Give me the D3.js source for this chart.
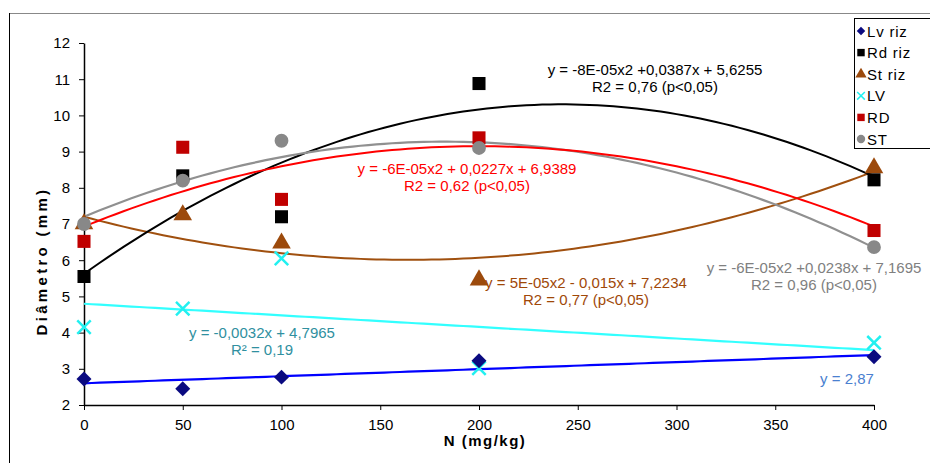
<!DOCTYPE html>
<html><head><meta charset="utf-8">
<script src="https://cdn.jsdelivr.net/npm/d3@7"></script>
<style>
body{margin:0;background:#fff;}
svg text{font-family:"Liberation Sans",Arial,sans-serif;}
</style></head>
<body><svg id="c" width="930" height="463"></svg>
<script>
// ---- data ----
const doses = [0, 50, 100, 200, 400];
const lvRiz = [2.72, 2.45, 2.77, 3.22, 3.33];
const rdRiz = [5.55, 8.33, 7.2, 10.88, 8.22];
const stRiz = [7.0, 7.25, 6.47, 5.45, 8.55];
const lv    = [4.15, 4.66, 6.05, 3.02, 3.72];
const rd    = [6.52, 9.12, 7.68, 9.38, 6.82];
const st    = [7.0, 8.2, 9.3, 9.1, 6.36];
const xTicks = [0, 50, 100, 150, 200, 250, 300, 350, 400];
const yTicks = [2, 3, 4, 5, 6, 7, 8, 9, 10, 11, 12];
// trend coefficients [a, b, c] for a*x^2 + b*x + c (as drawn)
const trendLvRiz = [0, 0.00195, 2.6];
const trendRdRiz = [-8e-5, 0.0387, 5.6255];
const trendStRiz = [4.4e-5, -0.01447, 7.2];
const trendLv    = [0, -0.0032, 4.7965];
const trendRd    = [-5.55e-5, 0.0222, 6.93];
const trendSt    = [-6.21e-5, 0.0227, 7.2];
const legendNames = ["Lv riz", "Rd riz", "St riz", "LV", "RD", "ST"];

const svg = d3.select("#c");
const x = d3.scaleLinear().domain([0, 400]).range([84, 874]);
const y = d3.scaleLinear().domain([2, 12]).range([405, 43]);

// frame
svg.append("line").attr("x1",9).attr("x2",930).attr("y1",13.5).attr("y2",13.5).attr("stroke","#888");
svg.append("line").attr("x1",9.5).attr("x2",9.5).attr("y1",13).attr("y2",463).attr("stroke","#000");

// axes
const xAxis = svg.append("g").attr("transform","translate(0,405)")
  .call(d3.axisBottom(x).tickValues(xTicks).tickSize(5).tickSizeOuter(0).tickPadding(7));
const yAxis = svg.append("g").attr("transform","translate(84,0)")
  .call(d3.axisLeft(y).tickValues(yTicks).tickSize(5).tickSizeOuter(0).tickPadding(9));
[xAxis, yAxis].forEach(g=>{
  g.select(".domain").attr("stroke","#000").attr("stroke-width",1.5);
  g.selectAll(".tick line").attr("stroke","#000");
  g.selectAll("text").attr("font-size",15).attr("fill","#000").attr("font-family","Liberation Sans, Arial");
});
xAxis.selectAll("text").attr("dy","0.85em");

svg.append("text").attr("x",485).attr("y",446).attr("text-anchor","middle")
  .attr("font-size",15).attr("font-weight","bold").attr("letter-spacing",1.5).text("N (mg/kg)");
svg.append("text").attr("transform","translate(47,261) rotate(-90)").attr("text-anchor","middle")
  .attr("font-size",15).attr("font-weight","bold").attr("letter-spacing",3.3).text("Diâmetro (mm)");

// trend lines
const xs = d3.range(0, 401, 4);
function trend(coef, color, w){
  const [a,b,c] = coef;
  svg.append("path").datum(xs)
    .attr("d", d3.line().x(d=>x(d)).y(d=>y(a*d*d+b*d+c)))
    .attr("fill","none").attr("stroke",color).attr("stroke-width",w);
}
trend(trendLv, "#33ffff", 2.2);
trend(trendLvRiz, "#0000ff", 2.2);
trend(trendStRiz, "#a0500f", 2);
trend(trendRdRiz, "#000000", 2);
trend(trendSt, "#909090", 2.2);
trend(trendRd, "#ff0000", 2);

// markers
const sym = {
  diamond: d3.symbol().type(d3.symbolSquare),
  square: d3.symbol().type(d3.symbolSquare),
  triangle: d3.symbol().type(d3.symbolTriangle),
  circle: d3.symbol().type(d3.symbolCircle),
  cross: d3.symbol().type(d3.symbolX)
};
const series = [
  {vals: stRiz, type:"triangle", color:"#9c4a0c", size:150},
  {vals: rdRiz, type:"square", color:"#000000", size:170},
  {vals: lv, type:"cross", color:"#22f0f0", size:120},
  {vals: rd, type:"square", color:"#c00000", size:170},
  {vals: st, type:"circle", color:"#888888", size:150},
  {vals: lvRiz, type:"diamond", color:"#0a0a80", size:112}
];
series.forEach(s=>{
  svg.append("g").selectAll("path").data(s.vals).join("path")
    .attr("transform",(d,i)=>`translate(${x(doses[i])},${y(d)})` + (s.type==="diamond" ? " rotate(45)" : ""))
    .attr("d", sym[s.type].size(s.size)())
    .attr("fill", s.type==="cross" ? "none" : s.color)
    .attr("stroke", s.type==="cross" ? s.color : "none")
    .attr("stroke-width", 2.5);
});

// equation labels
function label(lines, cx, cy, color){
  lines.forEach((t,i)=>{
    svg.append("text").attr("x",cx).attr("y",cy+i*17).attr("text-anchor","middle")
      .attr("font-size",15).attr("fill",color).text(t);
  });
}
label(["y = -8E-05x2 +0,0387x + 5,6255","R2 = 0,76 (p<0,05)"], 655, 75, "#000");
label(["y = -6E-05x2 + 0,0227x + 6,9389","R2 = 0,62 (p<0,05)"], 467, 174, "#ff0000");
label(["y = 5E-05x2 - 0,015x + 7,2234","R2 = 0,77 (p<0,05)"], 586, 288, "#a04808");
label(["y = -6E-05x2 +0,0238x + 7,1695","R2 = 0,96 (p<0,05)"], 814, 273, "#808080");
label(["y = -0,0032x + 4,7965","R² = 0,19"], 262, 338, "#3090a0");
label(["y = 2,87"], 847, 384, "#4a80d0");

// legend
svg.append("rect").attr("x",854.5).attr("y",18.5).attr("width",80).attr("height",130)
  .attr("fill","#fff").attr("stroke","#000");
const legSym = [
  {type:"diamond", color:"#0a0a80", size:36},
  {type:"square", color:"#000", size:55},
  {type:"triangle", color:"#9c4a0c", size:55},
  {type:"cross", color:"#22f0f0", size:40},
  {type:"square", color:"#c00000", size:55},
  {type:"circle", color:"#888", size:55}
];
legendNames.forEach((n,i)=>{
  const yy = 31 + i*21.6;
  svg.append("path").attr("transform",`translate(861,${yy})` + (legSym[i].type==="diamond" ? " rotate(45)" : ""))
    .attr("d", sym[legSym[i].type].size(legSym[i].size)())
    .attr("fill", legSym[i].type==="cross" ? "none" : legSym[i].color)
    .attr("stroke", legSym[i].type==="cross" ? legSym[i].color : "none").attr("stroke-width",1.5);
  svg.append("text").attr("x",867).attr("y",yy+5.5).attr("font-size",15).attr("letter-spacing",0.8)
    .attr("fill","#000").text(n);
});
</script></body></html>
